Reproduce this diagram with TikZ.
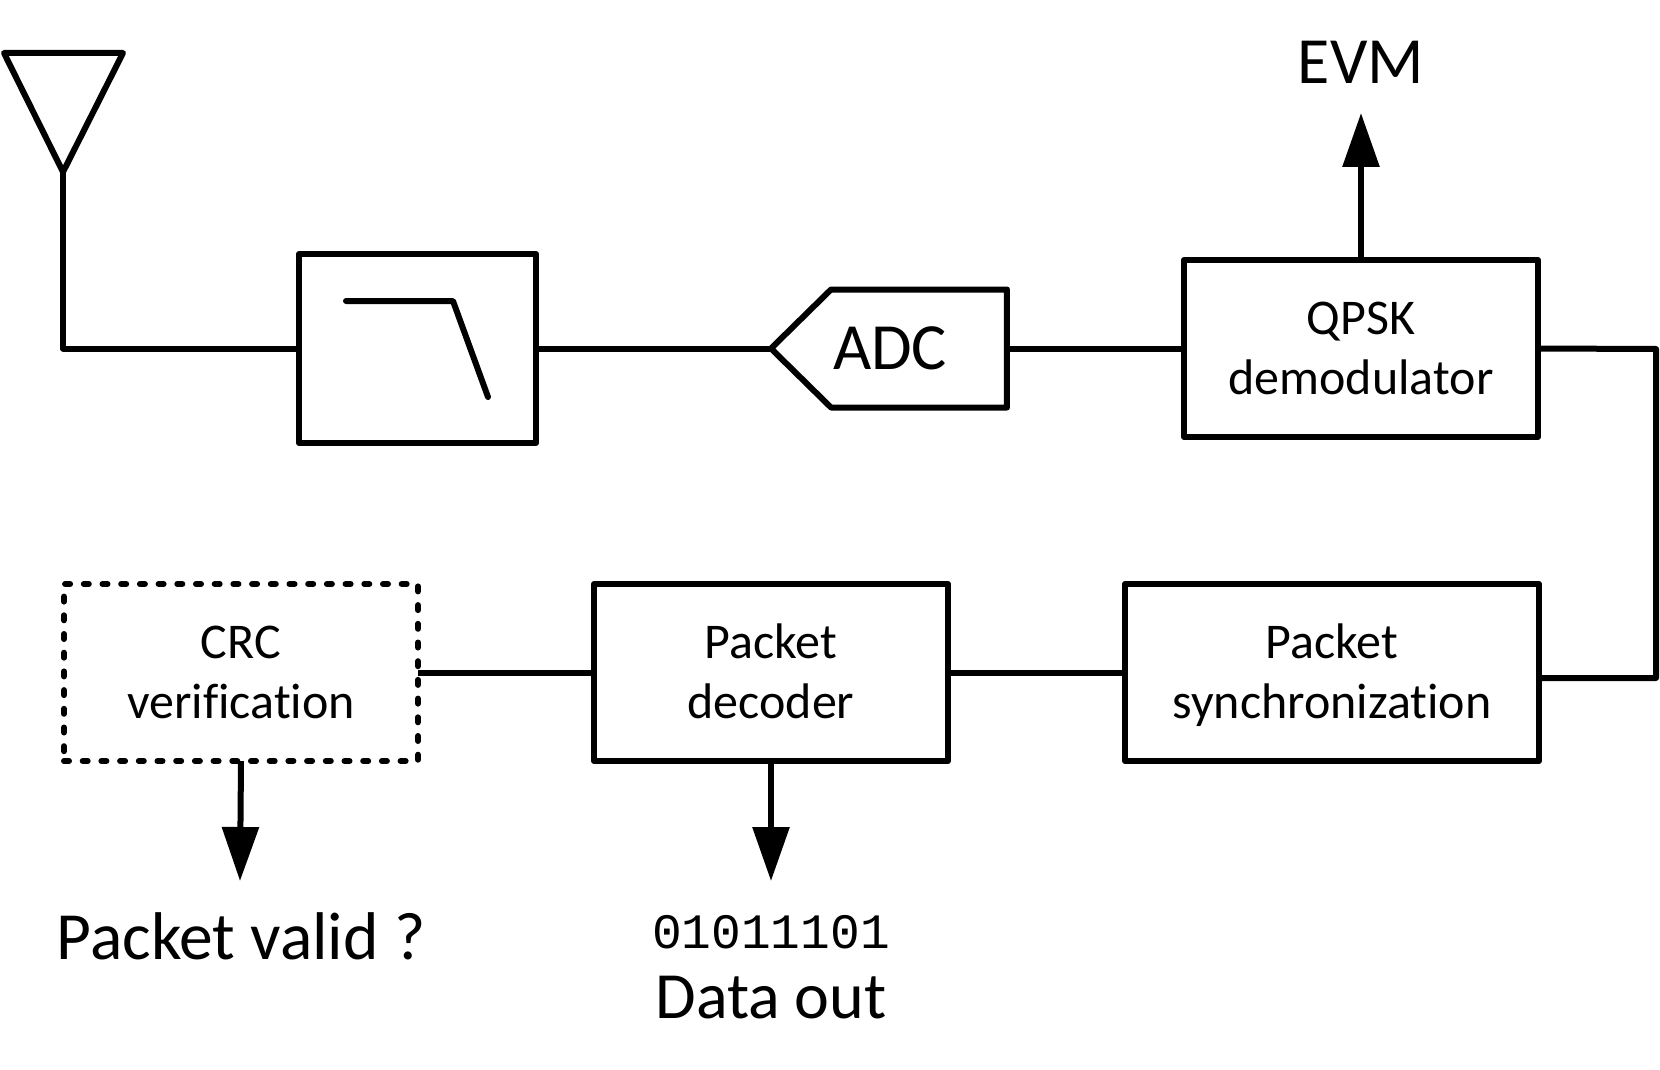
\documentclass[tikz,border=0pt]{standalone}
\usepackage{fontspec}
\setmainfont{Carlito}[Ligatures=NoCommon]
\newfontfamily\bitsfont{Liberation Mono}
\usetikzlibrary{positioning,arrows.meta,shapes.symbols}
\newcommand{\bigsize}{\fontsize{66}{74}\selectfont}
\newcommand{\boxsize}{\fontsize{50}{60}\selectfont}
\newcommand{\twolines}[2]{\rule{0pt}{34pt}#1\\\raisebox{0pt}[\height][2pt]{#2}}

\begin{document}
\begin{tikzpicture}[x=1pt,y=-1pt,on grid,line width=6pt,line join=round,
    block/.style={draw,rectangle,align=center,outer sep=0pt,font=\boxsize,minimum width=354pt,minimum height=177pt,inner sep=0pt},
    adcblock/.style={draw,signal,signal to=west,signal pointer angle=89,outer sep=0pt,minimum width=236pt,minimum height=118pt,inner sep=0pt},
    biglabel/.style={anchor=base,font=\bigsize,inner sep=0pt},
    flow/.style={-{Triangle[length=54pt,width=36pt]},line cap=butt}]
    \useasboundingbox (0,0) rectangle (1660,1070);
    \node[block,minimum width=237pt,minimum height=189pt] (Filter) at (417.5,348.5) {};
    \node[adcblock,right=501.5pt of Filter] (Adc) {};
    \node[biglabel,anchor=center,left=29pt of Adc] (AdcText) {ADC};
    \node[block,right=442pt of Adc] (Demod) {\twolines{QPSK}{demodulator}};
    \node[block,minimum width=414pt,below=324pt of Demod,xshift=-29pt] (Sync) {\twolines{Packet}{synchronization}};
    \node[block,left=561pt of Sync] (Decoder) {\twolines{Packet}{decoder}};
    \node[block,dash pattern=on 5pt off 13.7pt,line cap=round,left=530pt of Decoder] (Crc) {\twolines{CRC}{verification}};
    \node[biglabel] (Evm) at (1361,84) {EVM};
    \node[biglabel,font=\fontsize{67.5}{74}\selectfont] (Valid) at (241,959) {Packet valid ?};
    \node[biglabel,font=\bitsfont\fontsize{49.5}{50}\selectfont] (Bits) at (771,948) {01011101};
    \node[biglabel] (Out) at (771,1018) {Data out};
    \coordinate (AntLeft) at (4,53);
    \coordinate (AntRight) at (123,53);
    \coordinate (AntTip) at (63,172);
    \coordinate (PassStart) at (346,301);
    \coordinate (PassEnd) at (453,301);
    \coordinate (StopEnd) at (488,397);
    \coordinate (LoopTop) at (1656,349);
    \coordinate (LoopBot) at (1656,678);
    \coordinate (EvmTip) at (1361,113);
    \coordinate (ValidTip) at (240,881);
    \coordinate (OutTip) at (771,881);
    \draw (AntLeft) -- (AntRight) -- (AntTip) -- cycle;
    \draw (AntTip) |- (Filter.west);
    \draw[line cap=round] (PassStart) -- (PassEnd) -- (StopEnd);
    \draw (Filter.east) -- (Adc.west);
    \draw (Adc.east) -- (Demod.west);
    \draw (Demod.east) -- (LoopTop) -- (LoopBot) -- (LoopBot-|Sync.east);
    \draw (Sync.west) -- (Decoder.east);
    \draw (Decoder.west) -- (Crc.east);
    \draw[flow] (Demod.north) -- (EvmTip);
    \draw[flow] (Decoder.south) -- (OutTip);
    \draw[flow] (Crc.south) -- (ValidTip);
  \end{tikzpicture}
\end{document}
